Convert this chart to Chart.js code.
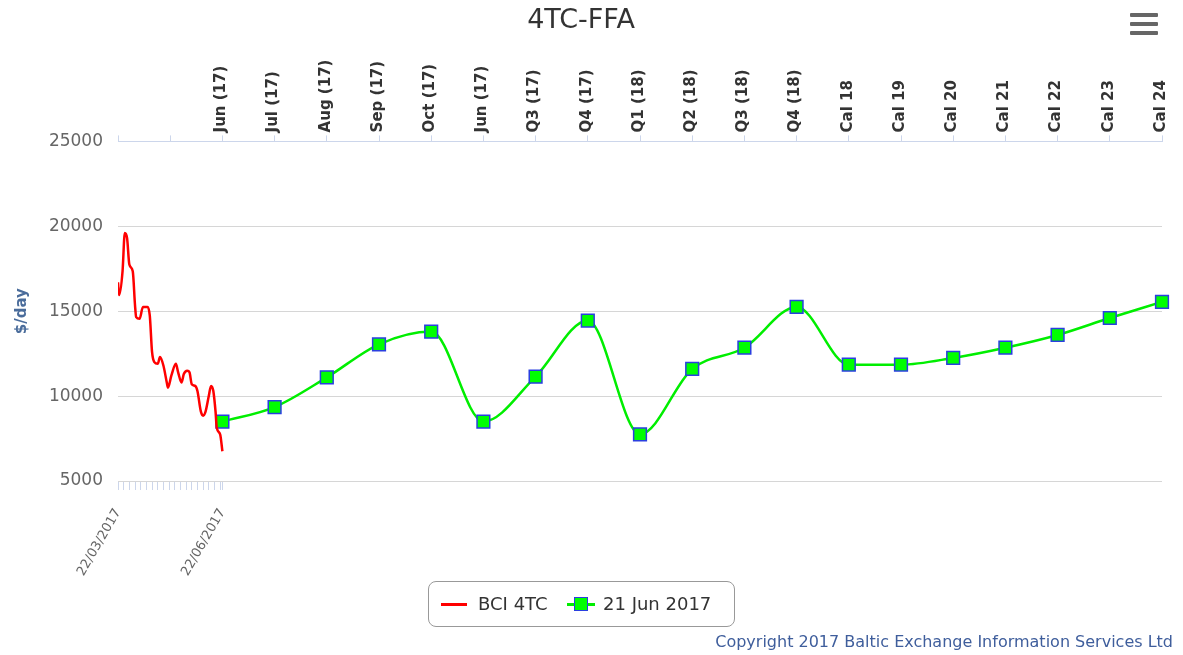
<!DOCTYPE html>
<html>
<head>
<meta charset="utf-8">
<script src="https://cdn.jsdelivr.net/npm/chart.js@4.4.1/dist/chart.umd.min.js"></script>
<style>
  body { margin: 0; background: #fff; font-family: "DejaVu Sans", sans-serif; }
  #wrap { position: relative; width: 1183px; height: 655px; }
  #menu { position: absolute; left: 1130px; top: 13px; width: 28px; }
  #menu div { height: 4px; background: #666; margin-bottom: 5px; border-radius: 1px; }
  #legend {
    position: absolute; left: 428px; top: 581px; width: 305px; height: 44px;
    border: 1px solid #999; border-radius: 8px; background: #fff;
    font-size: 18px; color: #333; line-height: 44px;
  }
  #legend .item { position: absolute; top: 0; }
  .redline { position: absolute; top: 21px; width: 26px; height: 3px; background: #ff0000; }
  .grnline { position: absolute; top: 21px; width: 28px; height: 3px; background: #00ee00; }
  .grnbox { position: absolute; top: 15px; left: 7px; width: 12px; height: 12px; background: #00ff00; border: 1.5px solid #2a3fe0; }
  #copy { position: absolute; right: 10px; top: 632px; font-size: 16px; color: #3f5e9c; }
</style>
</head>
<body>
<div id="wrap">
  <canvas id="ffa" width="1183" height="655"></canvas>
  <div id="menu"><div></div><div></div><div></div></div>
  <div id="legend">
    <span class="item" style="left:12px"><span class="redline" style="left:0"></span><span style="position:absolute;left:37px;white-space:nowrap">BCI 4TC</span></span>
    <span class="item" style="left:138px"><span class="grnline" style="left:0"></span><span class="grnbox"></span><span style="position:absolute;left:36px;white-space:nowrap">21 Jun 2017</span></span>
  </div>
  <div id="copy">Copyright 2017 Baltic Exchange Information Services Ltd</div>
</div>
<script>
// forward curve categories (top axis), first two slots are the spot period
const topLabels = ['', '', 'Jun (17)', 'Jul (17)', 'Aug (17)', 'Sep (17)', 'Oct (17)', 'Jun (17)',
  'Q3 (17)', 'Q4 (17)', 'Q1 (18)', 'Q2 (18)', 'Q3 (18)', 'Q4 (18)',
  'Cal 18', 'Cal 19', 'Cal 20', 'Cal 21', 'Cal 22', 'Cal 23', 'Cal 24'];
const ffaValues = [null, null, 8500, 9350, 11100, 13050, 13800, 8500,
  11150, 14450, 7750, 11600, 12850, 15250,
  11850, 11850, 12250, 12850, 13600, 14600, 15550];

// BCI 4TC spot, days after 22/03/2017
const redDays = [0, 1, 4, 6, 8, 10, 13, 15, 16, 19, 22, 26, 28, 30, 32, 35, 37, 40, 43, 44,
  47, 51, 53, 56, 58, 61, 63, 65, 68, 70, 73, 75, 77, 80, 82, 84, 86, 87, 90, 92];
const redValues = [16700, 15950, 17350, 19600, 19300, 17750, 17350, 15350, 14650, 14550,
  15250, 15250, 14750, 12600, 12000, 11900, 12300, 11800, 10800, 10500,
  11200, 11900, 11400, 10800, 11300, 11500, 11400, 10700, 10600, 10300,
  9100, 8850, 9050, 10000, 10600, 10300, 9050, 8150, 7750, 6750];
const dateLabels = ['22/03/2017', '22/06/2017'];
const dateEnd = 92;
const yTicks = [5000, 10000, 15000, 20000, 25000];

const redPoints = redDays.map((d, i) => ({ x: d, y: redValues[i] }));

new Chart(document.getElementById('ffa'), {
  type: 'line',
  data: {
    labels: topLabels,
    datasets: [{
      label: 'BCI 4TC',
      data: redPoints,
      xAxisID: 'xb',
      borderColor: '#ff0000',
      borderWidth: 2.5,
      pointRadius: 0,
      cubicInterpolationMode: 'monotone'
    }, {
      label: '21 Jun 2017',
      data: ffaValues,
      xAxisID: 'xt',
      borderColor: '#00ee00',
      borderWidth: 2.5,
      pointStyle: 'rect',
      pointRadius: 9,
      pointBackgroundColor: '#00ff00',
      pointBorderColor: '#2a3fe0',
      pointBorderWidth: 1.5,
      cubicInterpolationMode: 'monotone'
    }]
  },
  options: {
    responsive: false,
    animation: false,
    layout: { padding: { left: 0, right: 21, top: 0, bottom: 0 } },
    plugins: {
      legend: { display: false },
      tooltip: { enabled: false },
      title: {
        display: true,
        text: '4TC-FFA',
        color: '#333',
        font: { family: 'DejaVu Sans', size: 27, weight: 'normal' },
        padding: { top: 5, bottom: 2 }
      }
    },
    scales: {
      xt: {
        type: 'category',
        position: 'top',
        offset: false,
        afterFit: (s) => { s.height = 102; },
        grid: { drawOnChartArea: false, color: '#ccd6eb', tickLength: 6 },
        border: { color: '#ccd6eb' },
        ticks: {
          autoSkip: false, minRotation: 90, maxRotation: 90, padding: 3, labelOffset: 17,
          color: '#333', font: { family: 'DejaVu Sans', size: 15, weight: 'bold' }
        }
      },
      xb: {
        type: 'linear',
        position: 'bottom',
        min: 0,
        max: dateEnd * 10,
        afterFit: (s) => { s.height = 174; },
        afterBuildTicks: (s) => {
          const t = [];
          for (let d = 0; d < dateEnd; d += 5) t.push({ value: d });
          t.push({ value: dateEnd });
          s.ticks = t;
        },
        grid: { drawOnChartArea: false, color: '#ccd6eb', tickLength: 9 },
        border: { display: false },
        ticks: {
          autoSkip: false, minRotation: 60, maxRotation: 60, padding: 16,
          color: '#666', font: { family: 'DejaVu Sans', size: 13 },
          callback: (v) => v === 0 ? dateLabels[0] : (v === dateEnd ? dateLabels[1] : '')
        }
      },
      y: {
        min: 5000,
        max: 25000,
        afterFit: (s) => { s.width = 118; },
        afterBuildTicks: (s) => { s.ticks = yTicks.map(v => ({ value: v })); },
        grid: { color: '#d6d6d6', drawTicks: false },
        border: { display: false },
        title: {
          display: true, text: '$/day', color: '#4a6c9b',
          font: { family: 'DejaVu Sans', size: 15, weight: 'bold' },
          padding: { top: 13, bottom: 0 }
        },
        ticks: {
          padding: 15, color: '#666',
          font: { family: 'DejaVu Sans', size: 17 },
          callback: (v) => String(v)
        }
      }
    }
  }
});
</script>
</body>
</html>
